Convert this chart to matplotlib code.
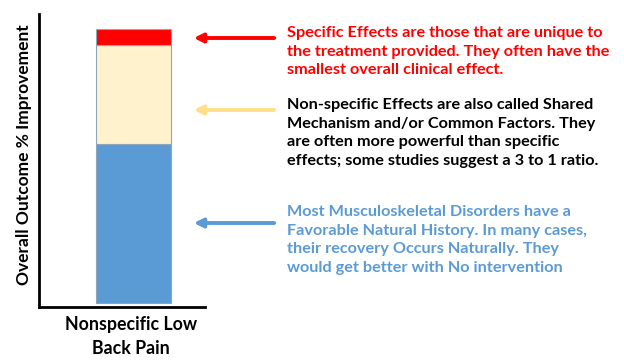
import matplotlib
matplotlib.use("Agg")
from matplotlib import pyplot as plt

# data
category = "Nonspecific Low\nBack Pain"
parts = ["Natural History", "Non-specific Effects", "Specific Effects"]
values = [58, 36, 6]
colors = ["#5B9BD5", "#FFF2CC", "#FF0000"]

notes = [
    "Specific Effects are those that are unique to\nthe treatment provided. They often have the\nsmallest overall clinical effect.",
    "Non-specific Effects are also called Shared\nMechanism and/or Common Factors. They\nare often more powerful than specific\neffects; some studies suggest a 3 to 1 ratio.",
    "Most Musculoskeletal Disorders have a\nFavorable Natural History. In many cases,\ntheir recovery Occurs Naturally. They\nwould get better with No intervention",
]
note_colors = ["#FF0000", "#000000", "#5B9BD5"]
arrow_colors = ["#FF0000", "#FFE08A", "#5B9BD5"]

W, H = 624, 364
plt.rcParams['font.family'] = ['Lato', 'DejaVu Sans']
fig = plt.figure(figsize=(W / 100, H / 100), dpi=100)
ax = fig.add_axes([39 / W, 1 - 307 / H, 166 / W, 293 / H])

bottom = 0
for v, c in zip(values, colors):
    ax.bar(0, v, width=0.452, bottom=bottom, color=c, edgecolor="#8FA5BC", linewidth=0.8)
    bottom += v

ax.set_xlim(-0.569, 0.431)
ax.set_ylim(-1.5, 105.5)
ax.set_xticks([])
ax.set_yticks([])
for s in ["top", "right"]:
    ax.spines[s].set_visible(False)
for s in ["left", "bottom"]:
    ax.spines[s].set_linewidth(2)
    ax.spines[s].set_color("black")

ax.set_ylabel("Overall Outcome % Improvement", fontsize=12.5, fontweight="bold")
ax.yaxis.set_label_coords(-0.045, 0.52)
ax.set_xlabel(category, fontsize=12.8, fontweight="bold", linespacing=1.55)
ax.xaxis.set_label_coords(0.554, -0.03)
ax.xaxis.label.set_va("top")

# text boxes and arrows (pixel positions)
text_top = [26, 98, 205]
arrow_y = [38, 110, 223]
for note, tc, ac, ty, ay in zip(notes, note_colors, arrow_colors, text_top, arrow_y):
    fig.text(287 / W, 1 - ty / H, note, color=tc, fontsize=11.7, fontweight="bold",
             va="top", ha="left", linespacing=1.42)
    fig.add_artist(matplotlib.patches.FancyArrowPatch(
        (277 / W, 1 - ay / H), (191 / W, 1 - ay / H), transform=fig.transFigure,
        arrowstyle="-|>", mutation_scale=13, lw=2.8, color=ac))

fig.savefig("out.png", dpi=100)
